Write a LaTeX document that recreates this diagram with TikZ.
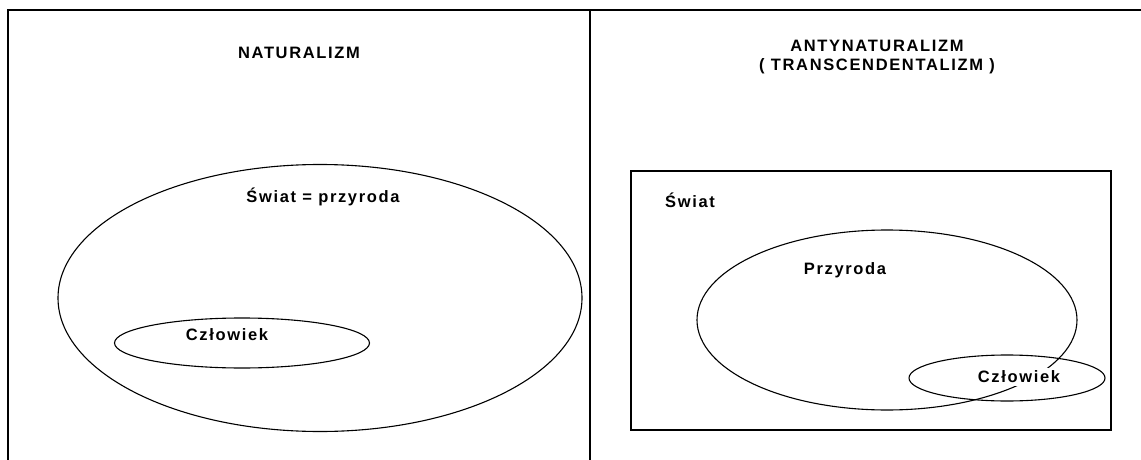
\documentclass[tikz,border=0pt]{standalone}
\usepackage{fontspec}
\setmainfont{Liberation Sans}
\usetikzlibrary{shapes.geometric}
\tikzset{
  every path/.style={line width=1.1pt},
  set/.style={draw, ellipse, inner sep=0pt, outer sep=0pt},
  label text/.style={font=\fontsize{16.5}{19}\selectfont\bfseries\addfontfeature{LetterSpace=10}, inner sep=1pt},
}

\begin{document}
\begin{tikzpicture}[x=1pt, y=-1pt]
    \useasboundingbox (0,0) rectangle (1141,460);
    \coordinate (bl) at (8,460);
    \coordinate (tl) at (8,10);
    \coordinate (tr) at (1141,10);
    \coordinate (mt) at (590,10);
    \coordinate (mb) at (590,460);
    \draw (bl) -- (tl) -- (tr);
    \draw (mt) -- (mb);

    \node[label text] (natur) at (299,53) {NATURALIZM};
    \node[set, minimum width=524pt, minimum height=267pt] (swiat) at (320,298) {};
    \node[set, minimum width=255pt, minimum height=50pt] (czlL) at (242,343) {};
    \node[label text] at (323,197) {Świat = przyroda};
    \node[label text] at (227,335) {Człowiek};

    \node[label text, align=center] (anty) at (877,57) {ANTYNATURALIZM\\( TRANSCENDENTALIZM )};
    \node[draw, minimum width=480pt, minimum height=259pt, inner sep=0pt] (swiatR) at (871,300.5) {};
    \node[label text] at (690,200) {Świat};
    \node[set, minimum width=380pt, minimum height=180pt] (przyroda) at (887,320) {};
    \node[set, minimum width=196pt, minimum height=46pt] (czlR) at (1007,378) {};
    \node[label text] at (845,270) {Przyroda};
    \node[label text, fill=white, inner sep=3pt] at (1019,377) {Człowiek};
  \end{tikzpicture}
\end{document}
